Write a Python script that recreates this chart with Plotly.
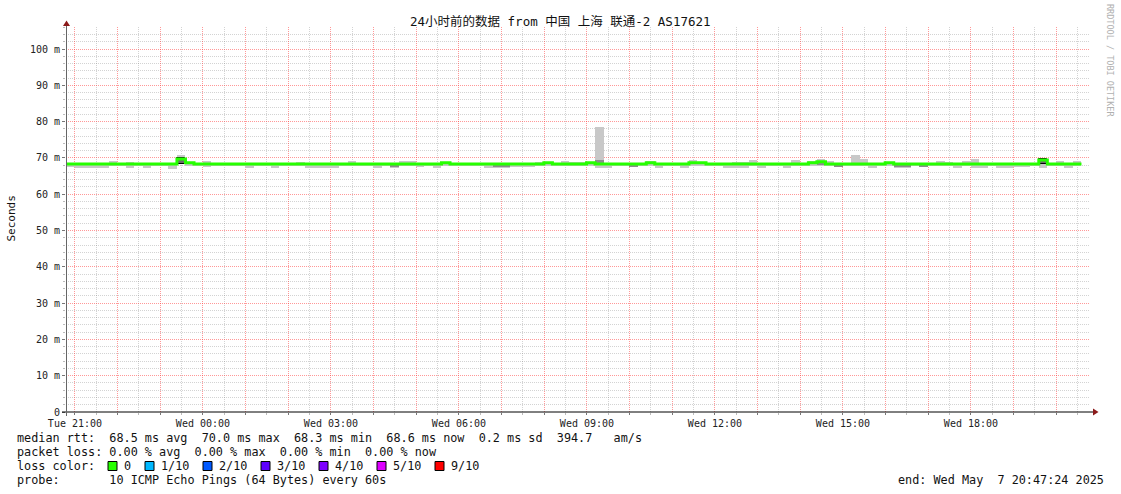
import plotly.graph_objects as go

# ---------------- data ----------------
start_hour = 20 + 47 / 60 + 24 / 3600          # Tue 20:47:24 (hours since Tue 00:00)
span_hours = 24.0
bin_hours = 0.2                                # 12-minute consolidation bins

median_ms = [
    68.35, 68.35, 68.35, 68.35, 68.35, 68.35, 68.35, 68.35, 68.35, 68.35,
    68.35, 68.35, 68.35, 69.7, 68.65, 68.35, 68.35, 68.35, 68.35, 68.35,
    68.35, 68.35, 68.35, 68.35, 68.35, 68.35, 68.35, 68.35, 68.35, 68.35,
    68.35, 68.35, 68.35, 68.35, 68.35, 68.35, 68.35, 68.35, 68.35, 68.35,
    68.35, 68.35, 68.35, 68.35, 68.65, 68.35, 68.35, 68.35, 68.35, 68.35,
    68.35, 68.35, 68.35, 68.35, 68.35, 68.35, 68.65, 68.35, 68.35, 68.35,
    68.35, 68.65, 68.35, 68.35, 68.35, 68.35, 68.35, 68.35, 68.65, 68.35,
    68.35, 68.35, 68.35, 68.65, 68.65, 68.35, 68.35, 68.35, 68.35, 68.35,
    68.35, 68.35, 68.35, 68.35, 68.35, 68.35, 68.35, 68.65, 68.95, 68.35,
    68.35, 68.35, 68.35, 68.35, 68.35, 68.35, 68.65, 68.35, 68.35, 68.35,
    68.35, 68.35, 68.35, 68.35, 68.35, 68.35, 68.35, 68.35, 68.35, 68.35,
    68.35, 68.35, 68.35, 68.35, 69.4, 68.35, 68.35, 68.35, 68.35,
]

smoke_high_ms = [
    68.7, 68.7, 68.7, 68.7, 68.7, 69.2, 68.7, 69.0, 68.7, 68.7,
    68.7, 68.7, 68.7, 70.9, 68.7, 68.7, 69.2, 68.7, 68.7, 68.7,
    68.7, 68.7, 68.7, 68.7, 68.7, 68.7, 68.7, 69.0, 68.7, 68.7,
    68.7, 68.7, 68.7, 69.2, 68.7, 68.7, 68.7, 68.7, 68.7, 69.1,
    69.1, 68.7, 68.7, 68.7, 68.9, 68.7, 68.7, 68.7, 68.7, 68.7,
    68.7, 68.7, 68.7, 68.7, 68.7, 69.0, 68.9, 68.7, 69.2, 69.0,
    69.0, 68.9, 78.6, 68.7, 68.7, 68.7, 68.7, 68.7, 69.2, 68.7,
    68.7, 68.7, 68.7, 69.4, 68.9, 68.7, 68.7, 68.7, 68.9, 68.9,
    69.3, 68.7, 68.7, 68.7, 68.7, 69.3, 68.7, 69.2, 69.7, 69.2,
    68.7, 68.7, 70.9, 69.7, 68.7, 68.7, 68.9, 68.7, 68.7, 68.7,
    68.7, 68.7, 69.1, 69.0, 68.7, 69.1, 69.7, 68.7, 68.7, 68.7,
    68.7, 68.7, 68.7, 68.7, 69.7, 68.7, 69.1, 68.7, 69.1,
]

smoke_low_ms = [
    67.4, 67.3, 67.3, 67.2, 67.2, 67.7, 67.7, 67.3, 67.7, 67.3,
    67.7, 67.7, 66.9, 68.3, 67.7, 67.7, 67.4, 67.7, 67.7, 67.7,
    67.7, 67.3, 67.7, 67.7, 67.3, 67.7, 67.7, 67.7, 67.2, 67.3,
    67.3, 67.3, 67.7, 67.7, 67.7, 67.7, 67.3, 67.7, 67.3, 67.7,
    67.7, 67.6, 67.7, 67.2, 67.7, 67.7, 67.7, 67.7, 67.7, 67.3,
    67.3, 67.3, 67.5, 67.5, 67.5, 67.7, 67.7, 67.7, 67.7, 67.7,
    67.7, 67.7, 67.3, 67.3, 67.7, 67.7, 67.4, 67.7, 67.7, 67.3,
    67.7, 67.7, 67.3, 67.7, 67.7, 67.7, 67.7, 67.3, 67.3, 67.3,
    67.7, 67.3, 67.7, 67.7, 67.3, 67.7, 67.7, 67.7, 67.7, 67.7,
    67.4, 67.7, 67.7, 67.7, 67.2, 67.7, 67.7, 67.2, 67.2, 67.7,
    67.7, 67.7, 67.7, 67.7, 67.3, 67.7, 67.3, 67.3, 67.7, 67.3,
    67.3, 67.4, 67.4, 67.7, 67.2, 67.7, 67.7, 67.3, 67.7,
]

# darker smoke (pings packed close to the median)
dark_bins = [38, 50, 51, 62, 66, 88, 90, 97, 98, 100]
dark_low_ms = [67.55, 67.55, 67.55, 68.6, 67.55, 68.2, 67.6, 67.55, 67.55, 67.6]
dark_high_ms = [68.0, 68.0, 68.0, 69.4, 68.0, 68.6, 68.0, 68.0, 68.0, 68.0]

# bins where the median jumps (outlined in black)
jump_bins = [13, 114]
jump_base_ms = [68.2, 68.2]

x_tick_hours = [21, 24, 27, 30, 33, 36, 39, 42]
x_tick_labels = ["Tue 21:00", "Wed 00:00", "Wed 03:00", "Wed 06:00",
                 "Wed 09:00", "Wed 12:00", "Wed 15:00", "Wed 18:00"]
y_tick_values = [0, 10, 20, 30, 40, 50, 60, 70, 80, 90, 100]
y_tick_labels = ["0", "10 m", "20 m", "30 m", "40 m", "50 m",
                 "60 m", "70 m", "80 m", "90 m", "100 m"]
y_top = 106.06

title_text = "24小时前的数据 from 中国 上海 联通-2 AS17621"
legend_rtt = "median rtt:  68.5 ms avg  70.0 ms max  68.3 ms min  68.6 ms now  0.2 ms sd  394.7   am/s"
legend_loss = "packet loss: 0.00 % avg  0.00 % max  0.00 % min  0.00 % now"
legend_probe = "probe:       10 ICMP Echo Pings (64 Bytes) every 60s"
legend_end = "end: Wed May  7 20:47:24 2025"
loss_labels = ["0", "1/10", "2/10", "3/10", "4/10", "5/10", "9/10"]
loss_colors = ["#26ff00", "#00b8ff", "#0059ff", "#5e00ff", "#7e00ff", "#dd00ff", "#ff0000"]

# ---------------- layout geometry ----------------
W, H = 1121, 494
L, R, T, B = 66, 31, 27, 82
PW, PH = W - L - R, H - T - B
MONO = "DejaVu Sans Mono, Noto Sans CJK SC, monospace"


def px(xp):
    return (xp - L) / PW


def py(yp):
    return (H - B - yp) / PH


def nb(s):
    return s.replace(" ", "\u00a0")


n = len(median_ms)
bin_start = [start_hour + i * bin_hours for i in range(n)]
bin_mid = [b + bin_hours / 2 for b in bin_start]

fig = go.Figure()

# light smoke
fig.add_trace(go.Bar(
    x=bin_mid, base=smoke_low_ms,
    y=[h - l for h, l in zip(smoke_high_ms, smoke_low_ms)],
    width=bin_hours, marker=dict(color="#c8c8c8", line=dict(width=0)),
    hoverinfo="skip", showlegend=False))

# dark smoke
fig.add_trace(go.Bar(
    x=[bin_mid[i] for i in dark_bins], base=dark_low_ms,
    y=[h - l for h, l in zip(dark_high_ms, dark_low_ms)],
    width=bin_hours, marker=dict(color="#8c8c8c", line=dict(width=0)),
    hoverinfo="skip", showlegend=False))

# jump outlines
fig.add_trace(go.Bar(
    x=[bin_mid[i] for i in jump_bins], base=jump_base_ms,
    y=[median_ms[i] + 0.3 - b for i, b in zip(jump_bins, jump_base_ms)],
    width=bin_hours, marker=dict(color="#6a6a6a", line=dict(width=1, color="#000000")),
    hoverinfo="skip", showlegend=False))

# median line, coloured by loss (0 loss -> green); drawn on the overlay x axis
fig.add_trace(go.Scatter(
    x=bin_start + [bin_start[-1] + bin_hours], y=median_ms + [median_ms[-1]],
    xaxis="x2", yaxis="y",
    mode="lines", line=dict(color=loss_colors[0], width=3, shape="hv"),
    hoverinfo="skip", showlegend=False))

major_grid = "rgba(255,50,50,0.5)"
minor_grid = "rgba(110,110,110,0.3)"
x_range = [start_hour, start_hour + span_hours]

fig.update_layout(
    width=W, height=H,
    margin=dict(l=L, r=R, t=T, b=B, pad=0, autoexpand=False),
    paper_bgcolor="white", plot_bgcolor="white",
    barmode="overlay", bargap=0,
    font=dict(family=MONO, size=10, color="#222"),
    # base x axis: half-hour minor grid only
    xaxis=dict(
        range=x_range, automargin=False,
        tickmode="array", tickvals=[h + 0.5 for h in range(20, 45)],
        showticklabels=False,
        showgrid=True, gridcolor=minor_grid, griddash="1px,1px", gridwidth=1,
        ticks="outside", ticklen=2, tickcolor="#bbb",
        zeroline=False, showline=False, fixedrange=True,
    ),
    # overlay x axis: hourly red grid and labels
    xaxis2=dict(
        range=x_range, automargin=False, overlaying="x", anchor="y", side="bottom",
        tickmode="array", tickvals=list(range(21, 45)),
        ticktext=[x_tick_labels[x_tick_hours.index(h)] if h in x_tick_hours else ""
                  for h in range(21, 45)],
        showgrid=True, gridcolor=major_grid, griddash="1px,1px", gridwidth=1,
        ticks="outside", ticklen=2, tickcolor="#777",
        zeroline=False, showline=False,
        tickfont=dict(family=MONO, size=10, color="#222"),
        fixedrange=True,
    ),
    yaxis=dict(
        range=[0, y_top], automargin=False,
        tickmode="array", tickvals=y_tick_values, ticktext=y_tick_labels,
        showgrid=True, gridcolor=major_grid, griddash="1px,1px", gridwidth=1,
        ticks="outside", ticklen=3, tickcolor="#777",
        minor=dict(tickmode="array",
                   tickvals=[v for v in range(2, 107, 2) if v % 10 != 0],
                   showgrid=True, gridcolor=minor_grid, griddash="1px,1px", gridwidth=1,
                   ticks="outside", ticklen=2, tickcolor="#bbb"),
        zeroline=False, showline=False,
        tickfont=dict(family=MONO, size=10, color="#222"),
        fixedrange=True,
    ),
)

shapes = []
# x axis line + arrow
shapes.append(dict(type="line", xref="paper", yref="paper",
                   x0=px(62), x1=px(1094), y0=py(412), y1=py(412),
                   line=dict(color="#000", width=1)))
shapes.append(dict(type="path", xref="paper", yref="paper",
                   path=f"M {px(1093)},{py(408.5)} L {px(1098.5)},{py(412)} L {px(1093)},{py(415.5)} Z",
                   fillcolor="#8b1a1a", line=dict(width=0)))
# y axis line + arrow
shapes.append(dict(type="line", xref="paper", yref="paper",
                   x0=px(66.5), x1=px(66.5), y0=py(416), y1=py(24),
                   line=dict(color="#666", width=1)))
shapes.append(dict(type="path", xref="paper", yref="paper",
                   path=f"M {px(63)},{py(26)} L {px(66.5)},{py(20.5)} L {px(70)},{py(26)} Z",
                   fillcolor="#8b1a1a", line=dict(width=0)))

annotations = []
annotations.append(dict(text=nb(title_text), xref="paper", yref="paper",
                        x=px(560), y=py(21), xanchor="center", yanchor="middle",
                        showarrow=False, font=dict(family=MONO, size=12.5, color="#111")))
annotations.append(dict(text="Seconds", xref="paper", yref="paper",
                        x=px(10.5), y=py(219), xanchor="center", yanchor="middle",
                        textangle=-90, showarrow=False,
                        font=dict(family=MONO, size=11, color="#111")))
annotations.append(dict(text=nb("RRDTOOL / TOBI OETIKER"), xref="paper", yref="paper",
                        x=px(1110), y=py(60), xanchor="center", yanchor="middle",
                        textangle=90, showarrow=False,
                        font=dict(family=MONO, size=8.5, color="#b0b0b0")))

LEG_FONT = dict(family=MONO, size=11.8, color="#111")
for text, yline in [(legend_rtt, 438), (legend_loss, 452), ("loss color:", 466), (legend_probe, 480)]:
    annotations.append(dict(text=nb(text), xref="paper", yref="paper",
                            x=px(15), y=py(yline), xanchor="left", yanchor="middle",
                            showarrow=False, font=LEG_FONT))
annotations.append(dict(text=nb(legend_end), xref="paper", yref="paper",
                        x=px(1106), y=py(480), xanchor="right", yanchor="middle",
                        showarrow=False, font=LEG_FONT))

bx = 108
for lab, col in zip(loss_labels, loss_colors):
    shapes.append(dict(type="rect", xref="paper", yref="paper",
                       x0=px(bx), x1=px(bx + 9), y0=py(470.5), y1=py(461.5),
                       fillcolor=col, line=dict(color="#000", width=1)))
    annotations.append(dict(text=nb(lab), xref="paper", yref="paper",
                            x=px(bx + 14), y=py(466), xanchor="left", yanchor="middle",
                            showarrow=False, font=LEG_FONT))
    bx += 15 + 7 * len(lab) + 15

fig.update_layout(shapes=shapes, annotations=annotations)
fig.write_html(
    "out.html",
    config={"displayModeBar": False},
    post_script="document.body.style.margin='0';document.body.style.overflow='hidden';",
)
